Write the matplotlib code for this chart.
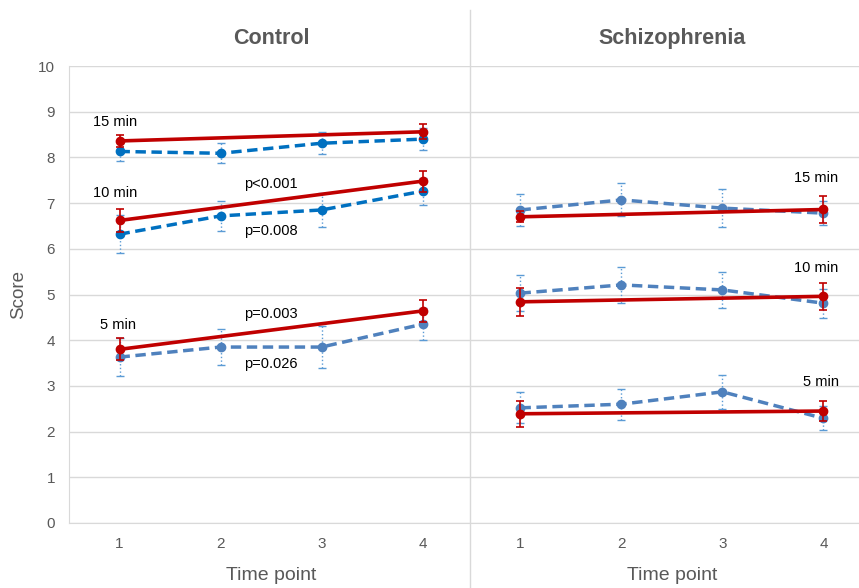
import numpy as np
import matplotlib.pyplot as plt
from matplotlib.lines import Line2D

plt.rcParams['font.family'] = ['Liberation Sans', 'DejaVu Sans']

# ── Data ────────────────────────────────────────────────────────────────────
time_points = [1, 2, 3, 4]
groups = ['Control', 'Schizophrenia']
durations = ['5 min', '10 min', '15 min']

# red = solid trend (only endpoints 1 and 4 shown)
red_ctrl = {'15 min': [8.36, 8.56], '10 min': [6.62, 7.48], '5 min': [3.80, 4.64]}
red_ctrl_err = {'15 min': [0.13, 0.16], '10 min': [0.26, 0.23], '5 min': [0.24, 0.24]}
red_schz = {'15 min': [6.70, 6.86], '10 min': [4.84, 4.96], '5 min': [2.39, 2.45]}
red_schz_err = {'15 min': [0.12, 0.30], '10 min': [0.30, 0.29], '5 min': [0.28, 0.22]}

# blue = dashed observed means at all four time points
blue_ctrl = {'15 min': [8.13, 8.09, 8.31, 8.40],
             '10 min': [6.32, 6.72, 6.85, 7.26],
             '5 min': [3.63, 3.85, 3.85, 4.35]}
blue_ctrl_err = {'15 min': [0.20, 0.22, 0.24, 0.24],
                 '10 min': [0.42, 0.33, 0.37, 0.30],
                 '5 min': [0.41, 0.40, 0.46, 0.35]}
blue_schz = {'15 min': [6.85, 7.07, 6.89, 6.78],
             '10 min': [5.03, 5.21, 5.10, 4.81],
             '5 min': [2.52, 2.60, 2.87, 2.29]}
blue_schz_err = {'15 min': [0.36, 0.36, 0.42, 0.26],
                 '10 min': [0.40, 0.40, 0.40, 0.32],
                 '5 min': [0.34, 0.34, 0.37, 0.26]}

p_labels = ['p<0.001', 'p=0.008', 'p=0.003', 'p=0.026']

RED = '#C00000'
BLUE_DARK = '#0070C0'
BLUE = '#4F81BD'
GRAY = '#595959'
SCHZ_OFFSET = 3.97   # panel 2 starts right after the divider

fig = plt.figure(figsize=(8.59, 5.88), dpi=100)
ax = fig.add_axes([69/859, 65/588, 790/859, 457/588])

def draw(offset, red, red_err, blue, blue_err, blue_col):
    x = np.array(time_points) + offset
    xr = x[[0, -1]]
    # blue error bars (dotted)
    eb = ax.errorbar(x, blue, yerr=blue_err, fmt='none', ecolor='#5B9BD5',
                     elinewidth=1.0, capsize=3, capthick=1.0, zorder=2)
    eb[2][0].set_linestyle(':')
    ax.plot(x, blue, color=blue_col, ls=(0, (3, 1.6)), lw=2.5,
            marker='o', ms=6, zorder=3)
    ax.errorbar(xr, red, yerr=red_err, fmt='none', ecolor=RED,
                elinewidth=1.2, capsize=3, capthick=1.2, zorder=4)
    ax.plot(xr, red, color=RED, lw=2.6, marker='o', ms=6, zorder=5)

for d in durations:
    col = BLUE if d == '5 min' else BLUE_DARK
    draw(0, red_ctrl[d], red_ctrl_err[d], blue_ctrl[d], blue_ctrl_err[d], col)
    draw(SCHZ_OFFSET, red_schz[d], red_schz_err[d], blue_schz[d], blue_schz_err[d], BLUE)

# ── Axes styling ────────────────────────────────────────────────────────────
ax.set_xlim(0.5, 0.5 + 790/101)
ax.set_ylim(0, 10)
ax.set_yticks(range(0, 11))
ax.set_xticks(list(time_points) + [t + SCHZ_OFFSET for t in time_points])
ax.set_xticklabels([str(t) for t in time_points] * 2)
ax.tick_params(length=0, labelsize=11, labelcolor=GRAY, pad=10)
ax.grid(axis='y', color='#D9D9D9', lw=1)
ax.set_axisbelow(True)
for s in ['top', 'right']:
    ax.spines[s].set_visible(False)
ax.spines['left'].set_color('#D9D9D9')
ax.spines['bottom'].set_color('#D9D9D9')
ax.set_ylabel('Score', fontsize=13.5, color=GRAY, labelpad=8)

# separator between panels
sep_x = 470 / 859
fig.add_artist(Line2D([sep_x, sep_x], [0, 1 - 10/588], transform=fig.transFigure,
                      color='#D9D9D9', lw=1))

# panel titles and x labels
for i, g in enumerate(groups):
    xc = 2.5 + SCHZ_OFFSET * i
    ax.text(xc, 10.6, g, ha='center', va='center', fontsize=15.5,
            fontweight='bold', color=GRAY)
    ax.text(xc, -1.15, 'Time point', ha='center', va='center', fontsize=14,
            color=GRAY)

# duration labels
ax.text(0.96, 8.77, '15 min', ha='center', va='center', fontsize=10.5)
ax.text(0.96, 7.22, '10 min', ha='center', va='center', fontsize=10.5)
ax.text(0.99, 4.33, '5 min', ha='center', va='center', fontsize=10.5)
ax.text(7.90, 7.55, '15 min', ha='center', va='center', fontsize=10.5)
ax.text(7.90, 5.58, '10 min', ha='center', va='center', fontsize=10.5)
ax.text(7.95, 3.09, '5 min', ha='center', va='center', fontsize=10.5)

# p-values
for lab, yv in zip(p_labels, [7.42, 6.39, 4.57, 3.48]):
    ax.text(2.5, yv, lab, ha='center', va='center', fontsize=10.5)

fig.savefig('out.png', dpi=100)
